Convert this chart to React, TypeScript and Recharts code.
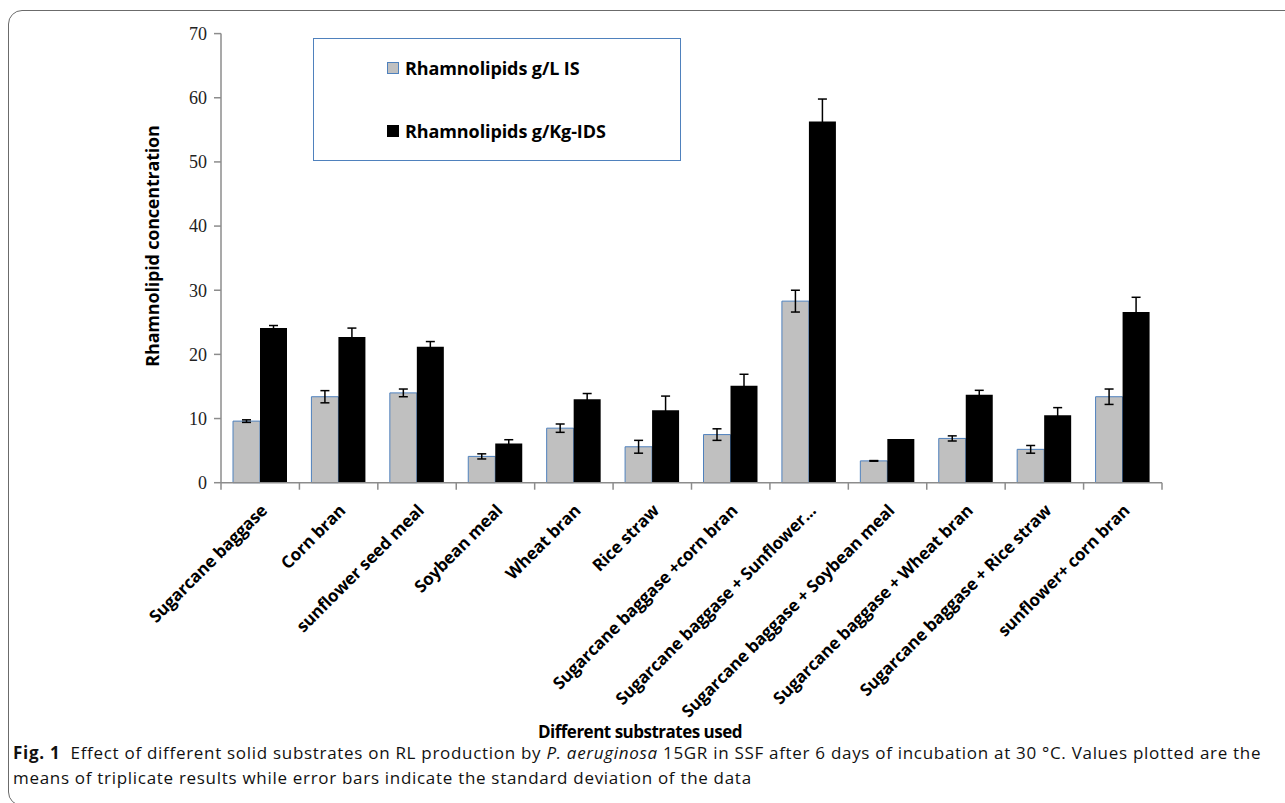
import React from 'react';
import { BarChart, Bar, XAxis, YAxis, ErrorBar } from 'recharts';

const categories = [
  'Sugarcane baggase',
  'Corn bran',
  'sunflower seed meal',
  'Soybean meal',
  'Wheat bran',
  'Rice straw',
  'Sugarcane baggase +corn bran',
  'Sugarcane baggase + Sunflower...',
  'Sugarcane baggase + Soybean meal',
  'Sugarcane baggase + Wheat bran',
  'Sugarcane baggase + Rice straw',
  'sunflower+ corn bran',
];

const seriesNames = ['Rhamnolipids g/L IS', 'Rhamnolipids g/Kg-IDS'];

// g/L IS
const isValues = [9.6, 13.4, 14.0, 4.1, 8.5, 5.6, 7.5, 28.3, 3.4, 6.9, 5.2, 13.4];
const isErrors = [0.2, 0.95, 0.6, 0.4, 0.65, 1.0, 0.9, 1.7, 0.05, 0.4, 0.6, 1.2];

// g/Kg-IDS
const idsValues = [24.1, 22.7, 21.2, 6.1, 13.0, 11.3, 15.1, 56.3, 6.8, 13.7, 10.5, 26.6];
const idsErrors = [0.4, 1.4, 0.8, 0.6, 0.9, 2.2, 1.8, 3.5, 0, 0.7, 1.2, 2.3];

const yTicks = [0, 10, 20, 30, 40, 50, 60, 70];

const data = categories.map((name, i) => ({
  name,
  is: isValues[i],
  isErr: isErrors[i],
  ids: idsValues[i],
  idsErr: idsErrors[i],
}));

const labelFont = "'Open Sans', 'Noto Sans', sans-serif";

// rotated category label plus the tick mark at the left edge of each band
const CategoryTick = (props: any) => {
  const { x, y, payload, index } = props;
  const half = payload && payload.offset ? payload.offset : 39.2;
  const isLast = index === categories.length - 1;
  const lx = x + 8;
  const ly = y + 29;
  return (
    <g>
      <line x1={x - half} y1={y} x2={x - half} y2={y + 7} stroke="#8c8c8c" strokeWidth={1.5} />
      {isLast && <line x1={x + half} y1={y} x2={x + half} y2={y + 7} stroke="#8c8c8c" strokeWidth={1.5} />}
      <text
        x={lx}
        y={ly}
        transform={`rotate(-45, ${lx}, ${ly})`}
        textAnchor="end"
        fontFamily={labelFont}
        fontWeight={700}
        fontSize={17}
        letterSpacing={-0.2}
        fill="#000"
      >
        {payload.value}
      </text>
    </g>
  );
};

export default function App() {
  return (
    <div style={{ position: 'absolute', left: 0, top: 0, width: 1285, height: 803, background: '#fff', overflow: 'hidden' }}>
      {/* rounded figure frame */}
      <div
        style={{
          position: 'absolute',
          left: 8,
          top: 10,
          width: 1320,
          height: 794,
          border: '1.5px solid #6b6b6b',
          borderRadius: 14,
        }}
      />

      <div style={{ position: 'absolute', left: 0, top: 0 }}>
        <BarChart
          width={1285}
          height={803}
          data={data}
          margin={{ top: 33.6, right: 123, bottom: 120.3, left: 161 }}
          barGap={0}
          barSize={27}
        >
          <YAxis
            width={60}
            domain={[0, 70]}
            ticks={yTicks}
            interval={0}
            tickSize={7}
            tickMargin={7}
            stroke="#8c8c8c"
            strokeWidth={1.5}
            tick={{ fill: '#222', fontSize: 18, fontFamily: "'Liberation Serif', serif" }}
          />
          <XAxis
            dataKey="name"
            height={200}
            interval={0}
            tickLine={false}
            tickSize={0}
            tickMargin={0}
            stroke="#8c8c8c"
            strokeWidth={1.5}
            tick={<CategoryTick />}
          />
          <Bar dataKey="is" name={seriesNames[0]} fill="#c0c0c0" stroke="#4f81bd" strokeWidth={1} isAnimationActive={false}>
            <ErrorBar dataKey="isErr" width={4.5} stroke="#000" strokeWidth={1.5} />
          </Bar>
          <Bar dataKey="ids" name={seriesNames[1]} fill="#000" isAnimationActive={false}>
            <ErrorBar dataKey="idsErr" width={4.5} stroke="#000" strokeWidth={1.5} />
          </Bar>
        </BarChart>
      </div>

      {/* legend box */}
      <div
        style={{
          position: 'absolute',
          left: 313,
          top: 37.5,
          width: 368,
          height: 123,
          border: '1px solid #4f81bd',
          boxSizing: 'border-box',
          fontFamily: labelFont,
          fontWeight: 700,
          fontSize: 18,
          letterSpacing: -0.1,
          color: '#000',
        }}
      >
        {seriesNames.map((s, i) => (
          <div
            key={s}
            style={{ position: 'absolute', left: 73, top: i === 0 ? 17 : 80.5, display: 'flex', alignItems: 'center', whiteSpace: 'nowrap' }}
          >
            <span
              style={{
                display: 'inline-block',
                width: 12,
                height: 12,
                boxSizing: 'border-box',
                background: i === 0 ? '#c0c0c0' : '#000',
                border: i === 0 ? '1.5px solid #4f81bd' : 'none',
                marginRight: 6,
              }}
            />
            <span>{s}</span>
          </div>
        ))}
      </div>

      {/* axis titles */}
      <svg width={1285} height={803} style={{ position: 'absolute', left: 0, top: 0, pointerEvents: 'none' }}>
        <text
          x={152}
          y={246}
          transform="rotate(-90, 152, 246)"
          textAnchor="middle"
          dominantBaseline="central"
          fontFamily={labelFont}
          fontWeight={700}
          fontSize={18}
          letterSpacing={-0.2}
          fill="#000"
        >
          Rhamnolipid concentration
        </text>
        <text
          x={640}
          y={731}
          textAnchor="middle"
          dominantBaseline="central"
          fontFamily={labelFont}
          fontWeight={700}
          fontSize={17}
          letterSpacing={-0.5}
          fill="#000"
        >
          Different substrates used
        </text>
      </svg>

      {/* caption */}
      <div
        style={{
          position: 'absolute',
          left: 13,
          top: 740,
          fontFamily: labelFont,
          fontSize: 17,
          letterSpacing: 0.7,
          lineHeight: '25px',
          color: '#111',
          whiteSpace: 'nowrap',
        }}
      >
        <div>
          <b>Fig. 1</b>&nbsp;&nbsp;Effect of different solid substrates on RL production by <i>P. aeruginosa</i> 15GR in SSF
          after 6 days of incubation at 30 °C. Values plotted are the
        </div>
        <div>means of triplicate results while error bars indicate the standard deviation of the data</div>
      </div>
    </div>
  );
}
